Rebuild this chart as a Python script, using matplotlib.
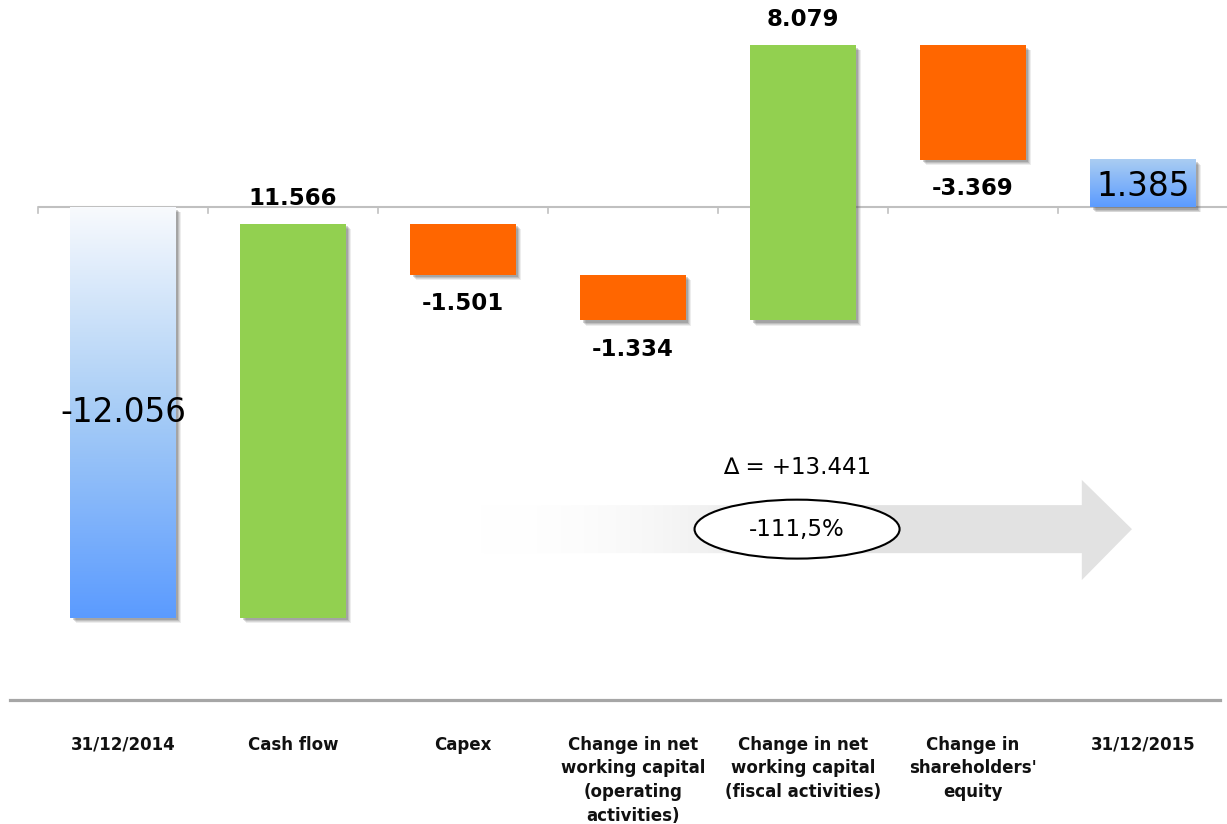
import numpy as np
import matplotlib
matplotlib.use("Agg")
import matplotlib.pyplot as plt
from matplotlib.patches import Rectangle, Polygon, Ellipse
from matplotlib.colors import LinearSegmentedColormap

categories = ["31/12/2014", "Cash flow", "Capex",
              "Change in net\nworking capital\n(operating\nactivities)",
              "Change in net\nworking capital\n(fiscal activities)",
              "Change in\nshareholders'\nequity",
              "31/12/2015"]
values = [-12.056, 11.566, -1.501, -1.334, 8.079, -3.369, 1.385]
value_labels = ["-12.056", "11.566", "-1.501", "-1.334", "8.079", "-3.369", "1.385"]
kinds = ["total", "delta", "delta", "delta", "delta", "delta", "total"]

GREEN = "#92D050"
ORANGE = "#FF6600"

start_cmap = LinearSegmentedColormap.from_list("s", ["#F8FAFD", "#A6CCF6", "#5B9BFF"])
end_cmap = LinearSegmentedColormap.from_list("e", ["#AACDF2", "#5B9BFF"])
arrow_cmap = LinearSegmentedColormap.from_list(
    "a", [(1, 1, 1, 0.0), (0.89, 0.89, 0.89, 1.0)])

fig = plt.figure(figsize=(12.27, 8.24), dpi=100)
ax = fig.add_axes([0, 0, 1, 1])
ax.set_xlim(-0.7235, 6.494)
ax.set_ylim(-18.11, 6.076)
ax.axis("off")

width = 0.62
# waterfall positions
bottoms, tops = [], []
running = 0.0
for v, k in zip(values, kinds):
    if k == "total":
        lo, hi = min(0, v), max(0, v)
        running = v
    else:
        lo, hi = min(running, running + v), max(running, running + v)
        running += v
    bottoms.append(lo)
    tops.append(hi)


def shadow(x0, y0, w, h):
    for i, a in enumerate([0.10, 0.14, 0.18, 0.25]):
        dx = 0.034 - i * 0.006
        dy = 0.16 - i * 0.028
        ax.add_patch(Rectangle((x0 + dx, y0 - dy), w, h, fc="#555555",
                               ec="none", alpha=a, zorder=1))


for i, (lo, hi, k, v) in enumerate(zip(bottoms, tops, kinds, values)):
    x0 = i - width / 2
    shadow(x0, lo, width, hi - lo)
    if k == "total":
        cmap = start_cmap if i == 0 else end_cmap
        grad = np.linspace(0, 1, 256).reshape(-1, 1)
        ax.imshow(grad, cmap=cmap, aspect="auto", extent=(x0, x0 + width, lo, hi),
                  origin="upper", zorder=2)
    else:
        ax.add_patch(Rectangle((x0, lo), width, hi - lo,
                               fc=GREEN if v > 0 else ORANGE, ec="none", zorder=2))

# zero line and ticks
ax.plot([-0.5, 6.5], [0, 0], color="#C0C0C0", lw=1.5, zorder=0.5, solid_capstyle="butt")
for b in np.arange(-0.5, 7.0, 1.0):
    ax.plot([b, b], [0, -0.18], color="#C0C0C0", lw=1.2, zorder=0.5)

# bottom line
ax.plot([-0.665, 6.453], [-14.47, -14.47], color="#A6A6A6", lw=2.3, zorder=3)

# value labels
for i, (lo, hi, k, v, lab) in enumerate(zip(bottoms, tops, kinds, values, value_labels)):
    if k == "total":
        y = (lo + hi) / 2
        if i == len(values) - 1:
            y = (lo + hi) / 2 - 0.1
        ax.text(i, y, lab, ha="center", va="center", fontsize=23.5, zorder=5)
    elif v > 0:
        ax.text(i, hi + 0.75, lab, ha="center", va="center", fontsize=16.5,
                fontweight="bold", zorder=5)
    else:
        ax.text(i, lo - 0.85, lab, ha="center", va="center", fontsize=16.5,
                fontweight="bold", zorder=5)

# category labels
for i, c in enumerate(categories):
    ax.text(i, -15.52, c, ha="center", va="top", fontsize=12,
            fontweight="bold", linespacing=1.4, color="#111111")

# gradient arrow
ax_x0, ax_body_end, ax_tip = 2.09, 5.64, 5.935
body_top, body_bot = -8.75, -10.16
head_top, head_bot = -8.01, -10.95
mid = (body_top + body_bot) / 2
arrow = Polygon([(ax_x0, body_top), (ax_body_end, body_top), (ax_body_end, head_top),
                 (ax_tip, mid), (ax_body_end, head_bot), (ax_body_end, body_bot),
                 (ax_x0, body_bot)], closed=True, fc="none", ec="none")
ax.add_patch(arrow)
hgrad = np.clip(np.linspace(0, 1, 256) / 0.5, 0, 1).reshape(1, -1)
im = ax.imshow(hgrad, cmap=arrow_cmap, aspect="auto",
               extent=(ax_x0, ax_tip, head_bot, head_top), zorder=1.5, vmin=0, vmax=1)
im.set_clip_path(arrow)

delta = values[-1] - values[0]
pct = delta / values[0] * 100
ex = 3.965
ax.text(ex, -7.66, "\u2206 = +{:.3f}".format(delta), ha="center", va="center",
        fontsize=16.5, zorder=5)
ax.add_patch(Ellipse((ex, mid), 1.206, 1.73, fc="white", ec="black", lw=1.5, zorder=4))
ax.text(ex, mid, "{:.1f}%".format(pct).replace(".", ","), ha="center", va="center",
        fontsize=16.5, zorder=5)

fig.savefig("out.png", dpi=100)
